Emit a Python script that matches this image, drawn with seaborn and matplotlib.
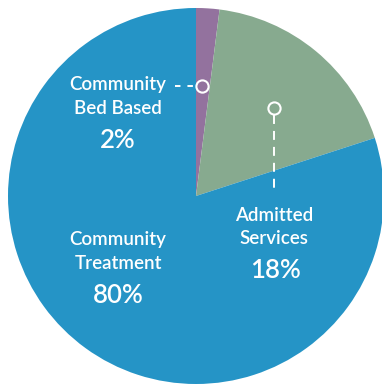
import matplotlib
matplotlib.use("Agg")
import matplotlib.pyplot as plt
import seaborn as sns

# Share of spending by service type (percent)
categories = ["Community Bed Based", "Admitted Services", "Community Treatment"]
shares = [2, 18, 80]
slice_colors = ["#93729E", "#87AA8F", "#2594C6"]

sns.set_theme(style="white")
plt.rcParams["font.family"] = ["Lato", "DejaVu Sans"]

fig = plt.figure(figsize=(3.82, 3.85), dpi=100)
ax = fig.add_axes([0, 0, 1, 1])
ax.set_axis_off()

ax.pie(shares, colors=slice_colors, startangle=90, counterclock=False,
       radius=1.0, center=(0, 0), wedgeprops=dict(linewidth=0))

# visible window: unit circle, slightly clipped on the right/bottom
px = 188.0
ax.set_xlim(-196 / px, (382 - 196) / px)
ax.set_ylim(-(385 - 196) / px, 196 / px)


def to_xy(x_px, y_px):
    return (x_px - 196) / px, (196 - y_px) / px


label_kw = dict(color="white", ha="center", va="baseline", fontsize=13.5,
                fontweight="semibold")
pct_kw = dict(color="white", ha="center", va="baseline", fontsize=18.5,
              fontweight="semibold")

# Community Bed Based callout
x, y = to_xy(118, 90)
ax.text(x, y, "Community", **label_kw)
x, y = to_xy(118, 113.5)
ax.text(x, y, "Bed Based", **label_kw)
x, y = to_xy(118, 147.5)
ax.text(x, y, f"{shares[0]}%", **pct_kw)

x0, y0 = to_xy(175, 85.7)
x1, y1 = to_xy(196, 85.7)
ax.plot([x0, x1], [y0, y1], color="white", lw=1.4, ls=(0, (2.8, 3.6)),
        solid_capstyle="butt", dash_capstyle="butt")
mx, my = to_xy(201.7, 85.7)
ax.plot([mx], [my], marker="o", ms=8.8, mfc="none", mec="white", mew=1.5)

# Admitted Services callout
x0, y0 = to_xy(274.3, 115)
x1, y1 = to_xy(274.3, 193)
ax.plot([x0, x1], [y0, y1], color="white", lw=1.4, ls=(0, (4.6, 3.6)),
        dash_capstyle="butt")
mx, my = to_xy(274.3, 108.3)
ax.plot([mx], [my], marker="o", ms=8.8, mfc="none", mec="white", mew=1.5)

x, y = to_xy(274, 220.7)
ax.text(x, y, "Admitted", **label_kw)
x, y = to_xy(274, 244.3)
ax.text(x, y, "Services", **label_kw)
x, y = to_xy(275, 278.3)
ax.text(x, y, f"{shares[1]}%", **pct_kw)

# Community Treatment label
x, y = to_xy(118, 245)
ax.text(x, y, "Community", **label_kw)
x, y = to_xy(118, 269.3)
ax.text(x, y, "Treatment", **label_kw)
x, y = to_xy(118, 302.7)
ax.text(x, y, f"{shares[2]}%", **pct_kw)

fig.savefig("out.png", dpi=100, facecolor="white")
